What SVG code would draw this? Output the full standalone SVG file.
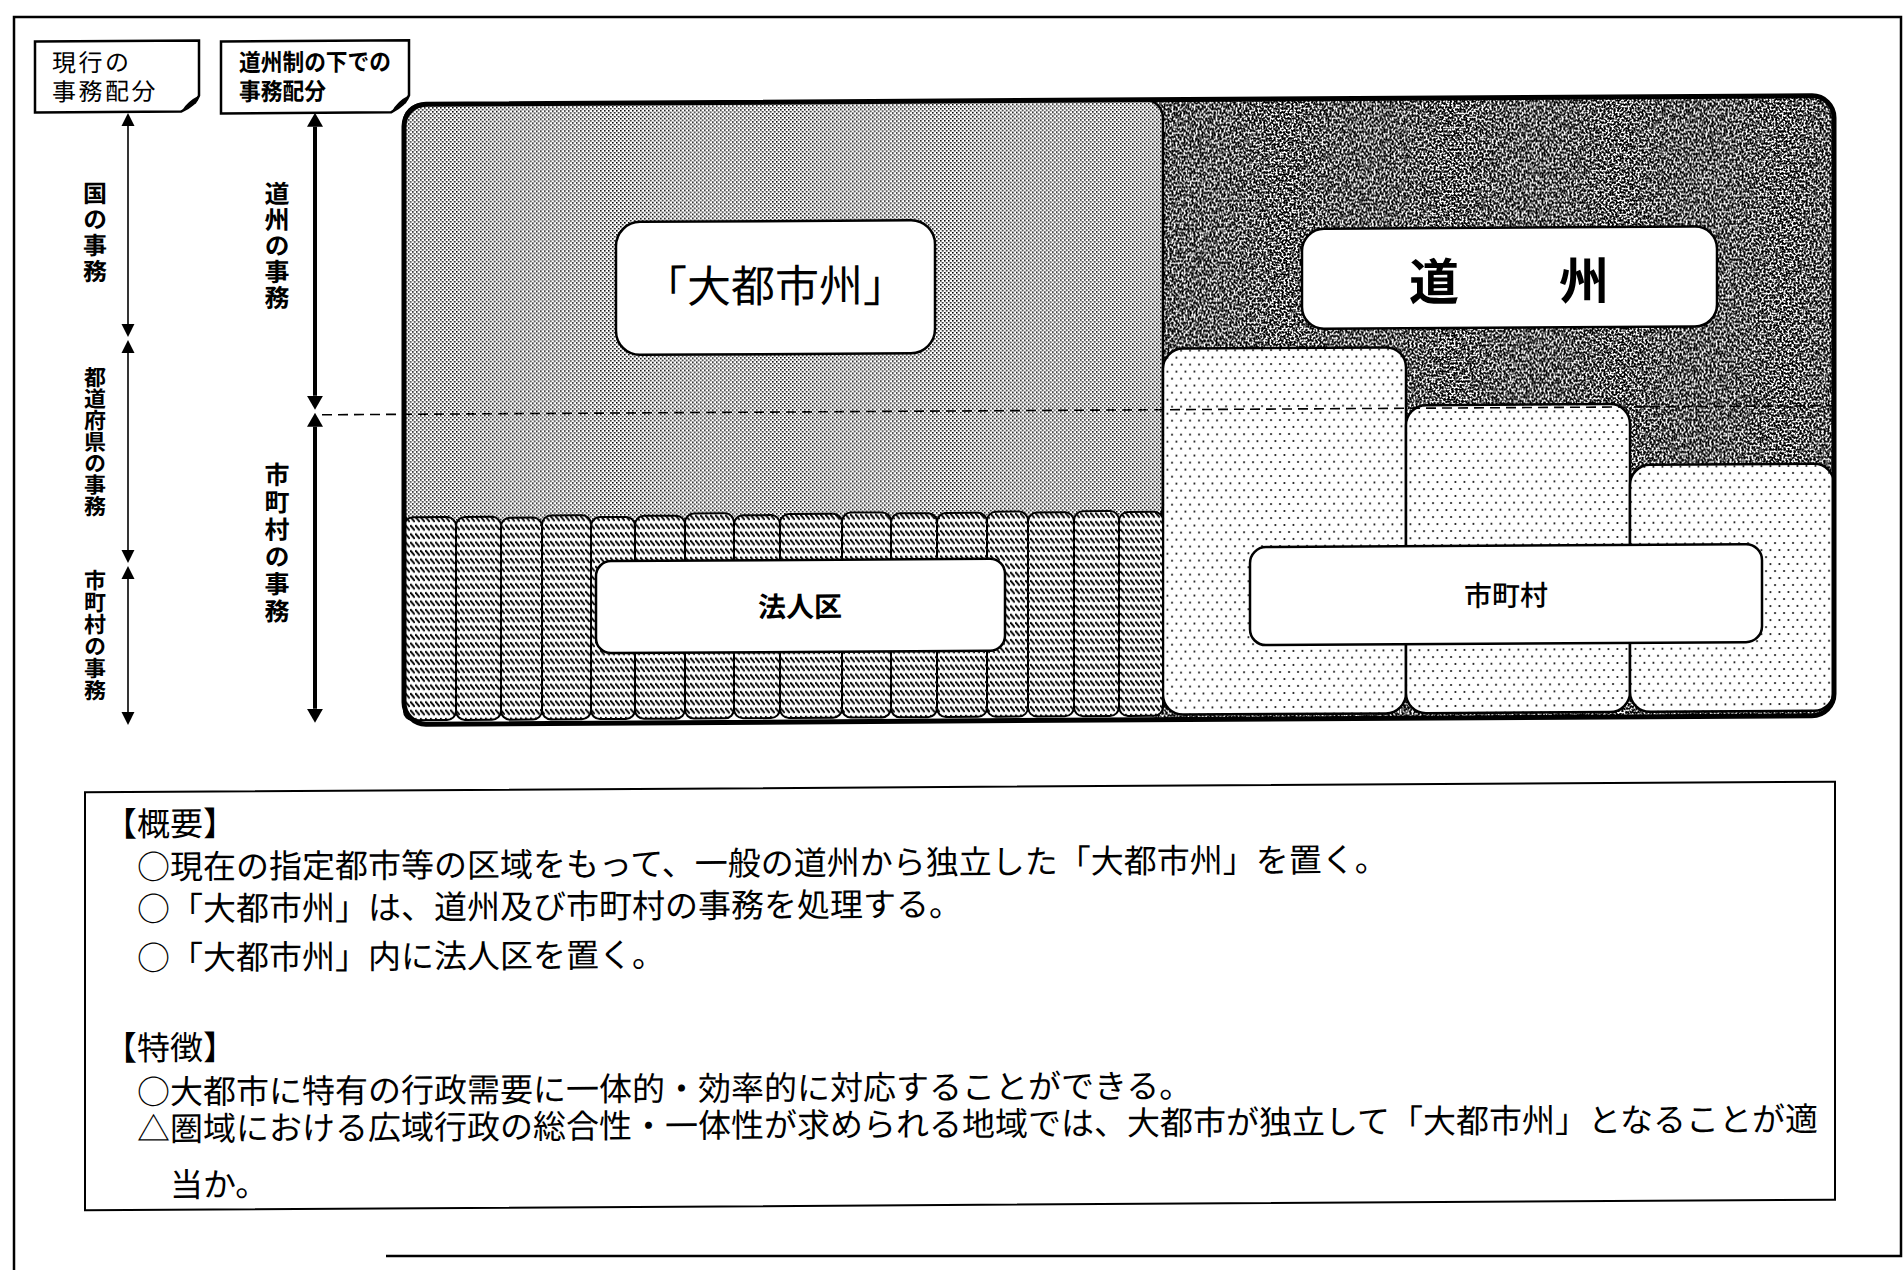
<svg xmlns="http://www.w3.org/2000/svg" width="1904" height="1270" viewBox="0 0 1904 1270">
<style>
.jp{font-family:"Noto Sans CJK JP","Noto Sans CJK SC",sans-serif;fill:#000}
.b{font-weight:bold}
.vt{writing-mode:vertical-rl;font-weight:bold}
.lbl{fill:#fff;stroke:#000;stroke-width:2.5}
.tag{fill:#fff;stroke:#000;stroke-width:2.5}
.strip{fill:url(#pHatch);stroke:#000;stroke-width:2}
.muni{fill:url(#pDots);stroke:#000;stroke-width:2.5}
.thin{stroke:#000;stroke-width:1.6;fill:none}
.thick{stroke:#000;stroke-width:4;fill:none}
</style>
<defs>
<pattern id="pDense" width="4" height="4" patternUnits="userSpaceOnUse">
<rect width="4" height="4" fill="#fff"/>
<rect x="0" y="0" width="1.55" height="1.55" fill="#000"/>
<rect x="2" y="2" width="1.55" height="1.55" fill="#000"/>
</pattern>
<pattern id="pHatch" width="5" height="8.4" patternUnits="userSpaceOnUse">
<rect width="5" height="8.4" fill="#fff"/>
<path d="M0.2,1 L4.8,6.4" stroke="#000" stroke-width="2"/>
</pattern>
<pattern id="pDots" width="9" height="14" patternUnits="userSpaceOnUse">
<rect width="9" height="14" fill="#fff"/>
<circle cx="2" cy="2" r="1" fill="#000"/>
<circle cx="6.5" cy="9" r="1" fill="#000"/>
</pattern>
<filter id="fNoise" x="0" y="0" width="1" height="1">
<feTurbulence type="fractalNoise" baseFrequency="0.5" numOctaves="3" seed="7" result="t"/>
<feColorMatrix in="t" type="matrix" values="0 0 0 0 0  0 0 0 0 0  0 0 0 0 0  -7 0 0 0 4.15" result="m"/>
<feComposite in="m" in2="SourceAlpha" operator="in"/>
</filter>
<marker id="hThin" viewBox="0 -7 13 14" refX="0" refY="0" markerWidth="13" markerHeight="14" markerUnits="userSpaceOnUse" orient="auto-start-reverse">
<path d="M0,-6.5 L13,0 L0,6.5 Z" fill="#000"/>
</marker>
<marker id="hThick" viewBox="0 -8 14 16" refX="0" refY="0" markerWidth="14" markerHeight="16" markerUnits="userSpaceOnUse" orient="auto-start-reverse">
<path d="M0,-8 L14,0 L0,8 Z" fill="#000"/>
</marker>
</defs>
<rect width="1904" height="1270" fill="#fff"/>
<path id="frame" d="M14,1270 V17 H1901 V1256 H386" fill="none" stroke="#000" stroke-width="2.5"/>

<g transform="matrix(1,-0.006,0,1,0,5.71)">

<g id="label-current">
<path class="tag" d="M35,36 H199 V91 Q196,100 181,107 H35 Z"/>
<path d="M182,106 Q187,97 199,91 L196,99 Q190,101 182,106 Z" fill="#000"/>
<text class="jp" x="52" y="66" font-size="24" letter-spacing="2.5">現行の</text>
<text class="jp" x="52" y="95" font-size="24" letter-spacing="2.5">事務配分</text>
</g>
<g id="label-doshu">
<path class="tag" d="M221,37 H409 V92 Q406,101 391,109 H221 Z"/>
<path d="M392,108 Q397,98 409,92 L406,100 Q400,102 392,108 Z" fill="#000"/>
<text class="jp b" x="239" y="67" font-size="24" textLength="152" lengthAdjust="spacingAndGlyphs">道州制の下での</text>
<text class="jp b" x="239" y="96" font-size="24" textLength="87" lengthAdjust="spacingAndGlyphs">事務配分</text>
</g>

<g id="axis-labels">
<text class="jp vt" x="95" y="176" font-size="24" letter-spacing="2">国の事務</text>
<text class="jp vt" x="95" y="361" font-size="22" letter-spacing="-0.5">都道府県の事務</text>
<text class="jp vt" x="95" y="564" font-size="22">市町村の事務</text>
<text class="jp vt" x="277" y="177" font-size="25" letter-spacing="1">道州の事務</text>
<text class="jp vt" x="277" y="458" font-size="25" letter-spacing="2.3">市町村の事務</text>
</g>

<g id="doshu">
<rect x="1140" y="101" width="694" height="619" rx="22" fill="#fff"/>
<rect x="1140" y="101" width="694" height="619" rx="22" fill="#000" filter="url(#fNoise)"/>
</g>

<g id="daitoshishu">
<rect x="404" y="101" width="759" height="424" rx="18" fill="url(#pDense)" stroke="#000" stroke-width="2.5"/>
</g>

<g id="shichoson">
<rect class="muni" x="1163" y="350" width="243" height="366" rx="20"/>
<rect class="muni" x="1406" y="408" width="224" height="308" rx="20"/>
<rect class="muni" x="1630" y="469" width="204" height="247" rx="20"/>
</g>

<g id="hojinku">
<rect class="strip" x="404" y="514" width="52" height="203" rx="9"/>
<rect class="strip" x="456" y="514" width="45" height="203" rx="9"/>
<rect class="strip" x="501" y="515" width="41" height="202" rx="9"/>
<rect class="strip" x="542" y="513" width="49" height="204" rx="9"/>
<rect class="strip" x="591" y="515" width="44" height="202" rx="9"/>
<rect class="strip" x="635" y="514" width="50" height="203" rx="9"/>
<rect class="strip" x="685" y="512" width="49" height="205" rx="9"/>
<rect class="strip" x="734" y="514" width="46" height="203" rx="9"/>
<rect class="strip" x="780" y="513" width="62" height="204" rx="9"/>
<rect class="strip" x="842" y="512" width="49" height="205" rx="9"/>
<rect class="strip" x="891" y="513" width="46" height="204" rx="9"/>
<rect class="strip" x="937" y="513" width="50" height="204" rx="9"/>
<rect class="strip" x="987" y="512" width="41" height="205" rx="9"/>
<rect class="strip" x="1028" y="513" width="46" height="204" rx="9"/>
<rect class="strip" x="1074" y="512" width="45" height="205" rx="9"/>
<rect class="strip" x="1119" y="513" width="44" height="204" rx="9"/>
</g>

<rect id="outline" x="404" y="101" width="1430" height="620" rx="22" fill="none" stroke="#000" stroke-width="5"/>

<g id="connectors">
<line class="thin" x1="128" y1="121" x2="128" y2="319" marker-start="url(#hThin)" marker-end="url(#hThin)"/>
<line class="thin" x1="128" y1="348" x2="128" y2="545" marker-start="url(#hThin)" marker-end="url(#hThin)"/>
<line class="thin" x1="128" y1="574" x2="128" y2="707" marker-start="url(#hThin)" marker-end="url(#hThin)"/>
<line class="thick" x1="315" y1="123" x2="315" y2="392" marker-start="url(#hThick)" marker-end="url(#hThick)"/>
<line class="thick" x1="315" y1="423" x2="315" y2="705" marker-start="url(#hThick)" marker-end="url(#hThick)"/>
<line x1="322" y1="411" x2="1834" y2="411" stroke="#000" stroke-width="1.6" stroke-dasharray="10 6"/>
</g>

<g id="node-daitoshishu">
<rect class="lbl" x="616" y="220" width="319" height="133" rx="24"/>
<text class="jp" x="775" y="301" font-size="44" text-anchor="middle">「大都市州」</text>
</g>
<g id="node-doshu">
<rect class="lbl" x="1302" y="231" width="415" height="100" rx="22"/>
<text class="jp b" x="1509" y="303" font-size="50" text-anchor="middle">道　　州</text>
</g>
<g id="node-hojinku">
<rect class="lbl" x="596" y="559" width="409" height="92" rx="15"/>
<text class="jp b" x="800" y="616" font-size="28" text-anchor="middle">法人区</text>
</g>
<g id="node-shichoson">
<rect class="lbl" x="1250" y="549" width="512" height="98" rx="16"/>
<text class="jp" x="1506" y="609" font-size="28" text-anchor="middle" font-weight="500">市町村</text>
</g>

<g id="summary">
<rect x="85" y="787" width="1750" height="418" fill="#fff" stroke="#000" stroke-width="2"/>
<text class="jp" x="104" y="831" font-size="33">【概要】</text>
<text class="jp" x="137" y="874" font-size="33">○現在の指定都市等の区域をもって、一般の道州から独立した「大都市州」を置く。</text>
<text class="jp" x="137" y="916" font-size="33">○「大都市州」は、道州及び市町村の事務を処理する。</text>
<text class="jp" x="137" y="965" font-size="33">○「大都市州」内に法人区を置く。</text>
<text class="jp" x="104" y="1055" font-size="33">【特徴】</text>
<text class="jp" x="137" y="1099" font-size="33">○大都市に特有の行政需要に一体的・効率的に対応することができる。</text>
<text class="jp" x="137" y="1136" font-size="33">△圏域における広域行政の総合性・一体性が求められる地域では、大都市が独立して「大都市州」となることが適</text>
<text class="jp" x="170" y="1192" font-size="33">当か。</text>
</g>

</g>
</svg>
